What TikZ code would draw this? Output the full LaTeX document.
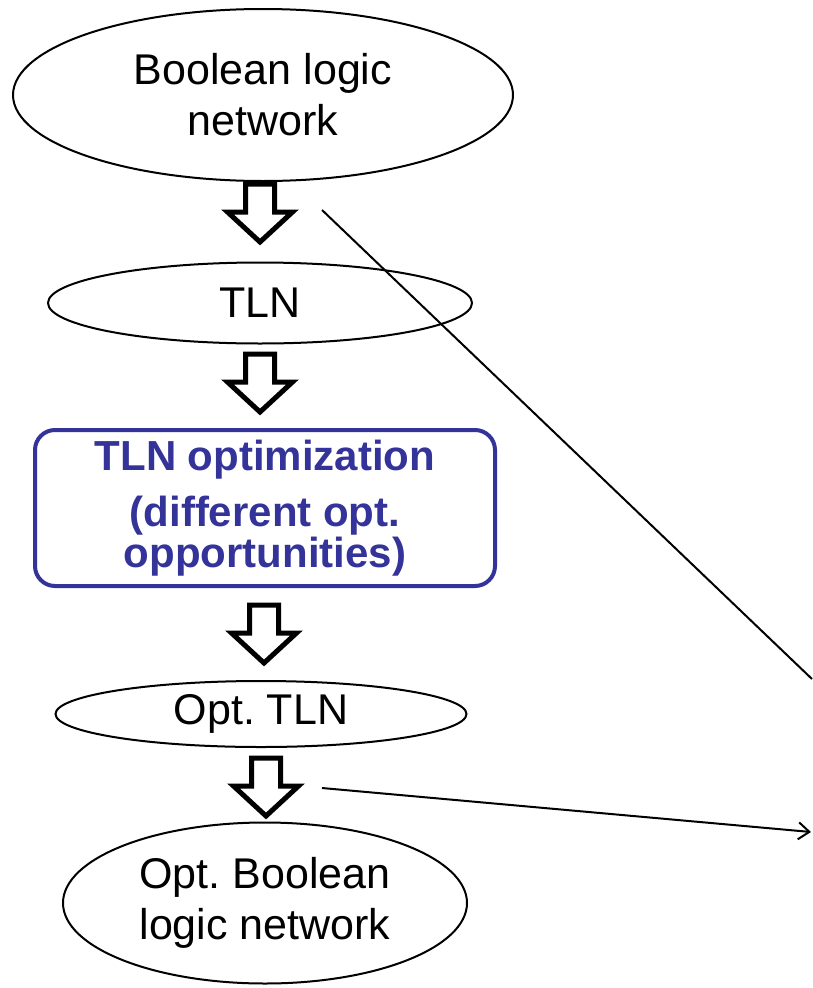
\documentclass[tikz,border=0pt]{standalone}
\usepackage{fontspec}
\setmainfont{Liberation Sans}
\usetikzlibrary{shapes.geometric,arrows.meta}
\definecolor{tlnblue}{HTML}{333399}
\frenchspacing

\begin{document}
\begin{tikzpicture}[
    x=1pt, y=-1pt,
    >={Straight Barb[length=11pt,width=17pt]},
    font=\fontsize{43}{51}\selectfont,
    oval/.style={
        draw=black,
        ellipse,
        line width=2pt,
        inner sep=0pt,
        align=center
    },
    optbox/.style={
        draw=tlnblue,
        rounded corners=20pt,
        line width=4pt,
        minimum width=460pt,
        minimum height=156pt,
        align=center,
        text=tlnblue,
        font=\fontsize{42}{34}\selectfont\bfseries
    },
    blockarr/.pic={
        \draw[line width=5pt, line join=miter]
            (-14.5,-30) -- (14.5,-30) -- (14.5,-2) -- (32.5,-2)
            -- (0,28) -- (-32.5,-2) -- (-14.5,-2) -- cycle;
    },
    arr/.style={->, line width=2pt}
]
\useasboundingbox (0,0) rectangle (812,988);

% flow: ovals and box
\node[oval, minimum width=500pt, minimum height=172pt] (bln) at (263,95)
{Boolean logic\\network};

\node[oval, minimum width=424pt, minimum height=81pt] (tln) at (260,303) {TLN};

\node[optbox] (opt) at (265,508)
{TLN optimization\\[16pt]
(different opt.\\
opportunities)};

\node[oval, minimum width=411pt, minimum height=66pt] (otln) at (261,714) {Opt. TLN};

\node[oval, minimum width=404pt, minimum height=161pt] (obln) at (265,903)
{Opt. Boolean\\logic network};

% block arrows between steps
\pic (a1) at (260,214) {blockarr};
\pic (a2) at (260,384) {blockarr};
\pic (a3) at (264,635) {blockarr};
\pic (a4) at (266,788) {blockarr};

% long connectors to the right
\coordinate (s1) at (322,210);
\coordinate (e1) at (812,679);
\coordinate (s2) at (322,788);
\coordinate (e2) at (811,832);
\draw[line width=2pt] (s1) -- (e1);
\draw[arr] (s2) -- (e2);

\end{tikzpicture}
\end{document}
